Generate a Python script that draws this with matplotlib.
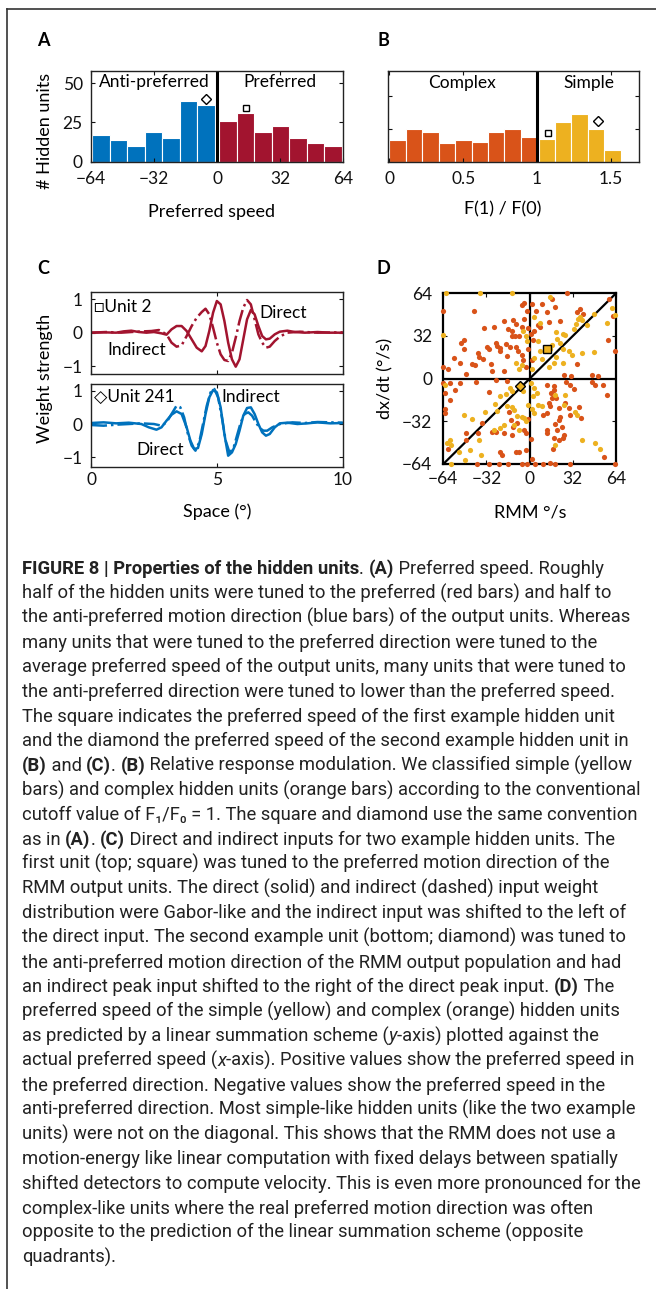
import matplotlib
matplotlib.use('Agg')
import matplotlib.pyplot as plt
from matplotlib.lines import Line2D
import numpy as np

W, H, DPI = 656, 1289, 100
FONT = ['Lato', 'DejaVu Sans']
CAP_FONT = ['Roboto', 'DejaVu Sans']
plt.rcParams['font.family'] = FONT
plt.rcParams['font.size'] = 12.5

BLUE, RED, ORANGE, YELLOW = '#0072BD', '#A2142F', '#D95319', '#EDB120'

# ---- datos panel A (preferred speed histogram)
speed_anti_counts = [17, 14, 10, 19, 15, 39, 36]
speed_pref_counts = [26, 31, 19, 23, 15, 12, 10]
speed_ticks = [-64, -32, 0, 32, 64]
count_ticks = [0, 25, 50]
unit2_speed, unit2_count = 14.5, 34
unit241_speed, unit241_count = -5.6, 40

# ---- datos panel B (F1/F0 histogram)
f1f0_complex_counts = [13, 20, 18, 11, 13, 12, 18, 20, 15]
f1f0_simple_counts = [14, 24, 29, 20, 7]
f1f0_ticks = [0, 0.5, 1, 1.5]
unit2_f1f0, unit2_f1f0_count = 1.075, 17.3
unit241_f1f0, unit241_f1f0_count = 1.41, 25

# ---- datos panel C (weights)
c_top_direct_x = [0, 0.5, 1.0, 1.3, 1.6, 1.9, 2.2, 2.5, 2.8, 3.0, 3.2, 3.4, 3.6, 3.8, 4.0, 4.2,
                  4.4, 4.55, 4.7, 4.85, 5.0, 5.15, 5.3, 5.45, 5.6, 5.75, 5.9, 6.05, 6.2, 6.35,
                  6.5, 6.65, 6.8, 6.95, 7.1, 7.3, 7.5, 7.8, 8.1, 8.5, 9.0, 9.5, 10]
c_top_direct_y = [0, 0.01, 0.0, 0.04, 0.06, 0.02, 0.0, 0.02, -0.02, -0.06, 0.1, 0.2, 0.2, 0.05,
                  -0.2, -0.45, -0.56, -0.4, 0.05, 0.6, 0.95, 0.85, 0.35, -0.3, -0.8, -1.02, -0.8,
                  -0.2, 0.4, 0.68, 0.55, 0.2, -0.1, -0.2, -0.18, -0.05, 0.03, 0.06, 0.02, 0.0,
                  0.02, 0.0, 0.0]
c_top_indirect_x = [0, 0.6, 1.2, 1.8, 2.4, 2.7, 3.0, 3.2, 3.4, 3.6, 3.8, 4.0, 4.2, 4.4, 4.55,
                    4.7, 4.85, 5.0, 5.15, 5.3, 5.45, 5.6, 5.75, 5.9, 6.05, 6.2, 6.35, 6.5, 6.65,
                    6.8, 6.95, 7.1, 7.3, 7.5, 7.8, 8.3, 9.0, 10]
c_top_indirect_y = [0.0, 0.02, 0.0, 0.03, 0.05, 0.08, -0.05, -0.3, -0.42, -0.38, -0.1, 0.2,
                    0.45, 0.62, 0.72, 0.55, 0.15, -0.3, -0.65, -0.82, -0.85, -0.6, -0.15, 0.35,
                    0.75, 0.98, 0.85, 0.4, -0.05, -0.3, -0.45, -0.42, -0.25, -0.12, 0.0, 0.03,
                    0.0, 0.01]
c_bot_direct_x = [0, 0.5, 1.0, 1.5, 2.0, 2.3, 2.6, 2.8, 3.0, 3.2, 3.4, 3.6, 3.8, 3.95, 4.1,
                  4.25, 4.4, 4.55, 4.7, 4.85, 5.0, 5.15, 5.3, 5.45, 5.6, 5.75, 5.9, 6.05, 6.2,
                  6.35, 6.5, 6.65, 6.8, 6.95, 7.1, 7.3, 7.5, 7.8, 8.2, 8.6, 9.0, 9.5, 10]
c_bot_direct_y = [0.03, 0.05, 0.02, 0.04, 0.0, -0.1, -0.17, -0.1, 0.1, 0.28, 0.38, 0.3, -0.1,
                  -0.5, -0.75, -0.72, -0.3, 0.3, 0.8, 1.02, 0.95, 0.5, -0.3, -0.95, -0.85, -0.6,
                  -0.2, 0.25, 0.48, 0.5, 0.3, 0.0, -0.25, -0.35, -0.3, -0.1, 0.02, 0.04, 0.0,
                  0.02, 0.05, 0.02, 0.03]
c_bot_indirect_x = [0, 0.5, 1.0, 1.5, 2.0, 2.5, 2.8, 3.0, 3.2, 3.4, 3.55, 3.7, 3.85, 4.0, 4.15,
                    4.3, 4.45, 4.6, 4.75, 4.9, 5.05, 5.2, 5.35, 5.5, 5.65, 5.8, 5.95, 6.1, 6.25,
                    6.4, 6.55, 6.7, 6.85, 7.0, 7.2, 7.5, 8.0, 8.5, 9.0, 9.5, 10]
c_bot_indirect_y = [-0.03, -0.05, -0.02, 0.0, 0.02, 0.0, -0.05, 0.05, 0.3, 0.55, 0.5, 0.2, -0.3,
                    -0.65, -0.8, -0.55, 0.0, 0.55, 0.95, 1.05, 0.8, 0.2, -0.5, -0.85, -0.75,
                    -0.35, 0.05, 0.3, 0.35, 0.25, 0.05, -0.12, -0.2, -0.2, -0.1, 0.0, 0.05, 0.03,
                    0.06, 0.05, 0.04]
space_ticks = [0, 5, 10]
weight_ticks = [-1, 0, 1]

# ---- datos panel D (RMM vs linear prediction), (x, y) en °/s
complex_pts = [
    (-64, 51), (-41.5, 51), (-6, 55), (-2, 51), (-4.5, 57), (-12, 44), (-4, 44.5), (-10, 41),
    (-13, 36), (-19, 43), (-26.7, 39), (-33.6, 38), (-16, 37), (-13, 32), (-10.5, 32), (-8, 32),
    (-49, 29), (-50.6, 27), (-49, 22.6), (-31.6, 24), (-30, 22), (-25, 27), (-24, 24.6),
    (-22, 23), (-17.8, 26), (-14.8, 24), (-9.9, 24), (-8.6, 21), (-5.7, 18), (-5, 14),
    (-38.5, 19), (-37.5, 16), (-34.6, 15), (-21.7, 21), (-16.8, 17), (-55.8, 15.3), (-51.9, 12),
    (-42.7, 10.8), (-40.7, 10), (-28.6, 10.8), (-27.9, 5.8), (-47, 3.3), (-60.7, 7), (-64, 9),
    (-19, 6), (-2.7, 9), (-5.7, 39), (-1, 38), (-1, 22),
    (27.7, 64), (2, 56), (5, 51), (12.8, 50), (19, 53.5), (16.5, 60), (7.9, 38.4), (14, 42.7),
    (22.7, 43.5), (35, 50), (37, 52), (39.5, 48.5), (59, 60), (62, 47), (57.8, 29), (63.5, 21),
    (35, 10.8), (25.7, 2.5), (30.5, 2), (46, 2.5), (51, 2), (1, 33.4), (3.5, 36), (2.5, 29),
    (6, 40), (1.5, 14), (9, 56),
    (-63, -10.6), (-63, -23), (-63, -26), (-58.8, -3), (-51.4, -3), (-55.5, -8.6), (-40, -2.5),
    (-30.4, -10), (-24.7, -1.3), (-17, -2), (-60.7, -52.4), (-47, -41), (-47, -46),
    (-38.5, -41), (-35, -33.4), (-28, -39.7), (-25, -39.7), (-19.3, -41), (-13, -42.3),
    (-12.6, -36), (-13.6, -31), (-9.4, -33.4), (-4.4, -38.5), (-3, -41), (-21.7, -55),
    (-20.5, -57.5), (-10, -55), (-8, -55), (-2.7, -53.7), (-39, -64), (-30.4, -64), (-23, -64),
    (-16.3, -64), (-5.7, -64), (-2, -64), (-59.3, -16.2), (-15.6, -25.3), (-1, -30), (-64, -3),
    (12.8, -5), (17.8, -5.6), (17.8, -8.6), (15.8, -11), (16.5, -14.4), (19.8, -14.4),
    (14, -18.2), (15, -20.5), (21.5, -22), (26.4, -18.2), (29, -22), (30, -27.6), (36.3, -21.3),
    (38, -29.6), (22.7, -28.4), (21.5, -31), (9.9, -27), (12.8, -25.5), (19, -34), (20, -38.5),
    (24, -36), (12.8, -38.5), (12.8, -41), (17.8, -44.8), (22, -46), (25, -44.8), (25.5, -42.3),
    (17.3, -52.4), (48.6, -5), (54, -5), (46, -2.5), (57, -12.6), (32.6, -8), (30, -4.4),
    (27, -2.5), (4, -64), (10, -64), (15, -63), (19, -64), (30, -64), (55, -59), (63.5, -64),
    (1, -45), (2, -60),
]
simple_pts = [
    (-62, 64), (-37, 64), (-13, 64), (-64, 33), (-5, 36), (-3, 32), (-10.4, 12), (-6, 10),
    (-8, 7), (-2, 28),
    (15, 61), (8, 42), (19.5, 35), (24.5, 33.4), (26, 32.5), (32.6, 37), (35.6, 44.7),
    (37.5, 46), (38.5, 44), (34, 41), (42.5, 40), (47.4, 48.5), (57, 42), (63, 48), (61, 53),
    (20, 29.6), (22.5, 27), (25, 22), (29, 21), (31.4, 17.6), (38.8, 19.6), (47.4, 20), (25, 12),
    (19.8, 16), (17.8, 11.5), (9, 14.6), (3, 15.8), (8, 20.6), (11.6, 22), (14.8, 22),
    (16.5, 25), (3.5, 46), (6, 28), (2, 7), (14, 9),
    (-63, -5), (-61, -48.6), (-59, -46), (-58, -50), (-58, -64), (-49, -27), (-44, -53.7),
    (-47.7, -61), (-37.8, -46), (-32.8, -25), (-25.4, -18.7), (-24, -24.5), (-21.7, -13),
    (-17.5, -11.4), (-14.3, -6.8), (-13, -9.4), (-16.8, -20.8), (-13, -21.3), (-11.8, -23.3),
    (-9.4, -27.8), (-5.7, -28.4), (-4.4, -29.6), (-2.5, -31.4), (-19.3, -34.7), (-21.7, -37.3),
    (-26.7, -38.5), (-11.8, -34.7), (-8, -38.5), (-4.7, -9.4), (-43, -30), (-36, -57), (-1, -20),
    (-52, -55),
    (3, -6.8), (5.4, -10.6), (9, -20.8), (6, -19.5), (2.5, -13), (1.7, -23), (3, -26),
    (25.7, -19.5), (33.8, -25), (35, -27.5), (19, -12.6), (26.4, -11.9), (38.8, -46),
    (48.6, -48.6), (52.4, -52.4), (19, -49.4), (1, -3),
]
unit2_pt = (12.9, 22.5)
unit241_pt = (-7.4, -5.6)
rmm_ticks = [-64, -32, 0, 32, 64]

# ---- caption (texto, estilo) : n normal, b negrita, i cursiva
caption = [
    [("FIGURE 8 | Properties of the hidden units", 'b'), (". ", 'n'), ("(A)", 'b'),
     (" Preferred speed. Roughly", 'n')],
    [("half of the hidden units were tuned to the preferred (red bars) and half to", 'n')],
    [("the anti-preferred motion direction (blue bars) of the output units. Whereas", 'n')],
    [("many units that were tuned to the preferred direction were tuned to the", 'n')],
    [("average preferred speed of the output units, many units that were tuned to", 'n')],
    [("the anti-preferred direction were tuned to lower than the preferred speed.", 'n')],
    [("The square indicates the preferred speed of the first example hidden unit", 'n')],
    [("and the diamond the preferred speed of the second example hidden unit in", 'n')],
    [("(B)", 'b'), (" and ", 'n'), ("(C)", 'b'), (". ", 'n'), ("(B)", 'b'),
     (" Relative response modulation. We classified simple (yellow", 'n')],
    [("bars) and complex hidden units (orange bars) according to the conventional", 'n')],
    [("cutoff value of F\u2081/F\u2080 = 1. The square and diamond use the same convention", 'n')],
    [("as in ", 'n'), ("(A)", 'b'), (". ", 'n'), ("(C)", 'b'),
     (" Direct and indirect inputs for two example hidden units. The", 'n')],
    [("first unit (top; square) was tuned to the preferred motion direction of the", 'n')],
    [("RMM output units. The direct (solid) and indirect (dashed) input weight", 'n')],
    [("distribution were Gabor-like and the indirect input was shifted to the left of", 'n')],
    [("the direct input. The second example unit (bottom; diamond) was tuned to", 'n')],
    [("the anti-preferred motion direction of the RMM output population and had", 'n')],
    [("an indirect peak input shifted to the right of the direct peak input. ", 'n'),
     ("(D)", 'b'), (" The", 'n')],
    [("preferred speed of the simple (yellow) and complex (orange) hidden units", 'n')],
    [("as predicted by a linear summation scheme (", 'n'), ("y", 'i'),
     ("-axis) plotted against the", 'n')],
    [("actual preferred speed (", 'n'), ("x", 'i'),
     ("-axis). Positive values show the preferred speed in", 'n')],
    [("the preferred direction. Negative values show the preferred speed in the", 'n')],
    [("anti-preferred direction. Most simple-like hidden units (like the two example", 'n')],
    [("units) were not on the diagonal. This shows that the RMM does not use a", 'n')],
    [("motion-energy like linear computation with fixed delays between spatially", 'n')],
    [("shifted detectors to compute velocity. This is even more pronounced for the", 'n')],
    [("complex-like units where the real preferred motion direction was often", 'n')],
    [("opposite to the prediction of the linear summation scheme (opposite", 'n')],
    [("quadrants).", 'n')],
]


def px_rect(left, top, right, bottom):
    return [left / W, 1 - bottom / H, (right - left) / W, (bottom - top) / H]


def fig_text(x, y, s, **kw):
    return fig.text(x / W, 1 - y / H, s, **kw)


def style_axes(ax, xpad, ypad, lw=1.0, color='#222222'):
    for sp in ax.spines.values():
        sp.set_linewidth(lw)
        sp.set_color(color)
    ax.tick_params(direction='in', length=3, width=0.8, top=True, right=True,
                   labelsize=12.5, colors='#111111')
    ax.tick_params(axis='x', pad=xpad)
    ax.tick_params(axis='y', pad=ypad)


fig = plt.figure(figsize=(W / DPI, H / DPI), dpi=DPI)

# marco exterior
fig.add_artist(Line2D([7 / W, 1], [1 - 9 / H, 1 - 9 / H], transform=fig.transFigure,
                      color='#333333', lw=1.2))
fig.add_artist(Line2D([7 / W, 7 / W], [1 - 9 / H, 0], transform=fig.transFigure,
                      color='#333333', lw=1.2))

# ================= A
axA = fig.add_axes(px_rect(91, 71, 343, 161.5))
bw = 62.2 / 7
axA.bar(-1.2 - bw * np.arange(7, 0, -1), speed_anti_counts, width=bw, align='edge',
        color=BLUE, edgecolor='white', linewidth=0.8)
axA.bar(1.2 + bw * np.arange(7), speed_pref_counts, width=bw, align='edge',
        color=RED, edgecolor='white', linewidth=0.8)
axA.axvline(0, color='black', lw=2.2)
axA.plot(unit241_speed, unit241_count, marker='D', ms=5, mfc='none', mec='black', mew=1)
axA.plot(unit2_speed, unit2_count, marker='s', ms=5, mfc='none', mec='black', mew=1)
axA.text(-31.8, 51, 'Anti-preferred', ha='center', va='center', fontsize=12.5)
axA.text(32, 51, 'Preferred', ha='center', va='center', fontsize=12.5)
axA.set_xlim(-64, 64)
axA.set_ylim(0, 58)
axA.set_xticks(speed_ticks)
axA.set_yticks(count_ticks)
style_axes(axA, 6.5, 6)
fig_text(43, 41, 'A', fontsize=13, weight='bold', ha='center', va='center')
fig_text(45, 131, '# Hidden units', rotation=90, ha='center', va='center', fontsize=13)
fig_text(212, 212, 'Preferred speed', ha='center', va='center', fontsize=13)

# ================= B
axB = fig.add_axes(px_rect(388, 70.5, 639, 161.5))
fw = 1 / 9
axB.bar(fw * np.arange(9), f1f0_complex_counts, width=fw, align='edge', color=ORANGE,
        edgecolor='white', linewidth=0.8)
axB.bar(1.01 + fw * np.arange(5), f1f0_simple_counts, width=fw, align='edge', color=YELLOW,
        edgecolor='white', linewidth=0.8)
axB.axvline(1, color='black', lw=2.2)
axB.plot(unit2_f1f0, unit2_f1f0_count, marker='s', ms=5, mfc='none', mec='black', mew=1)
axB.plot(unit241_f1f0, unit241_f1f0_count, marker='D', ms=5, mfc='none', mec='black', mew=1)
axB.text(0.49, 48, 'Complex', ha='center', va='center', fontsize=12.5)
axB.text(1.35, 48, 'Simple', ha='center', va='center', fontsize=12.5)
axB.set_xlim(-0.01, 1.69)
axB.set_ylim(0, 55.6)
axB.set_xticks(f1f0_ticks)
axB.set_xticklabels(['0', '0.5', '1', '1.5'])
axB.set_yticks([20, 40])
axB.set_yticklabels([])
style_axes(axB, 6.5, 6)
fig_text(383, 41, 'B', fontsize=13, weight='bold', ha='center', va='center')
fig_text(503, 209, 'F(1) / F(0)', ha='center', va='center', fontsize=13)

# ================= C
axC1 = fig.add_axes(px_rect(91, 291.7, 342.7, 374))
axC1.plot(c_top_direct_x, c_top_direct_y, color=RED, lw=1.8)
axC1.plot(c_top_indirect_x, c_top_indirect_y, color=RED, lw=1.8, ls='-.')
axC1.text(0.12, 0.78, '\u25a1Unit 2', ha='left', va='center', fontsize=12.5)
axC1.text(6.7, 0.58, 'Direct', ha='left', va='center', fontsize=12.5)
axC1.text(0.65, -0.52, 'Indirect', ha='left', va='center', fontsize=12.5)
axC1.set_xlim(0, 10)
axC1.set_ylim(-1.24, 1.23)
axC1.set_xticks(space_ticks)
axC1.set_xticklabels([])
axC1.set_yticks(weight_ticks)
style_axes(axC1, 3, 6)

axC2 = fig.add_axes(px_rect(91, 384, 342.7, 466.7))
axC2.plot(c_bot_direct_x, c_bot_direct_y, color=BLUE, lw=1.8)
axC2.plot(c_bot_indirect_x, c_bot_indirect_y, color=BLUE, lw=1.8, ls='-.')
axC2.text(0.1, 0.82, '\u25c7Unit 241', ha='left', va='center', fontsize=12.5)
axC2.text(5.19, 0.82, 'Indirect', ha='left', va='center', fontsize=12.5)
axC2.text(1.79, -0.78, 'Direct', ha='left', va='center', fontsize=12.5)
axC2.set_xlim(0, 10)
axC2.set_ylim(-1.28, 1.2)
axC2.set_xticks(space_ticks)
axC2.set_yticks(weight_ticks)
style_axes(axC2, 3.5, 6)
fig_text(43, 268, 'C', fontsize=13, weight='bold', ha='center', va='center')
fig_text(45, 378, 'Weight strength', rotation=90, ha='center', va='center', fontsize=13)
fig_text(217, 512, 'Space (\u00b0)', ha='center', va='center', fontsize=13)

# ================= D
axD = fig.add_axes(px_rect(443.3, 293.3, 616, 464))
axD.axhline(0, color='black', lw=1.6, zorder=1)
axD.axvline(0, color='black', lw=1.6, zorder=1)
axD.plot([-64, 64], [-64, 64], color='black', lw=1.6, zorder=1)
cx, cy = np.array(complex_pts).T
sx, sy = np.array(simple_pts).T
axD.scatter(cx, cy, s=14, color=ORANGE, lw=0, zorder=3, clip_on=False)
axD.scatter(sx, sy, s=14, color=YELLOW, lw=0, zorder=3, clip_on=False)
axD.plot(*unit2_pt, marker='s', ms=5.5, mfc=YELLOW, mec='black', mew=1, zorder=4)
axD.plot(*unit241_pt, marker='D', ms=5, mfc=YELLOW, mec='black', mew=1, zorder=4)
axD.set_xlim(-64, 64)
axD.set_ylim(-64, 64)
axD.set_xticks(rmm_ticks)
axD.set_yticks(rmm_ticks)
style_axes(axD, 5, 8, lw=1.6, color='black')
fig_text(383, 268, 'D', fontsize=13, weight='bold', ha='center', va='center')
fig_text(385, 378, 'dx/dt (\u00b0/s)', rotation=90, ha='center', va='center', fontsize=13)
fig_text(530, 512, 'RMM \u00b0/s', ha='center', va='center', fontsize=13)

# ================= caption
CAP_FS = 13.2
renderer = fig.canvas.get_renderer()
style_kw = {'n': {}, 'b': {'weight': 'bold'}, 'i': {'style': 'italic'}}


def run_width(s, kw):
    t1 = fig.text(0, 0, '|' + s + '|', fontsize=CAP_FS, family=CAP_FONT, **kw)
    t2 = fig.text(0, 0, '||', fontsize=CAP_FS, family=CAP_FONT, **kw)
    w = t1.get_window_extent(renderer).width - t2.get_window_extent(renderer).width
    t1.remove()
    t2.remove()
    return w


y0, dy = 574, 24.6
for i, line in enumerate(caption):
    x = 22
    for s, st in line:
        fig_text(x, y0 + i * dy, s, fontsize=CAP_FS, family=CAP_FONT, color='#222222',
                 ha='left', va='baseline', **style_kw[st])
        x += run_width(s, style_kw[st])

fig.savefig('out.png', dpi=DPI)
